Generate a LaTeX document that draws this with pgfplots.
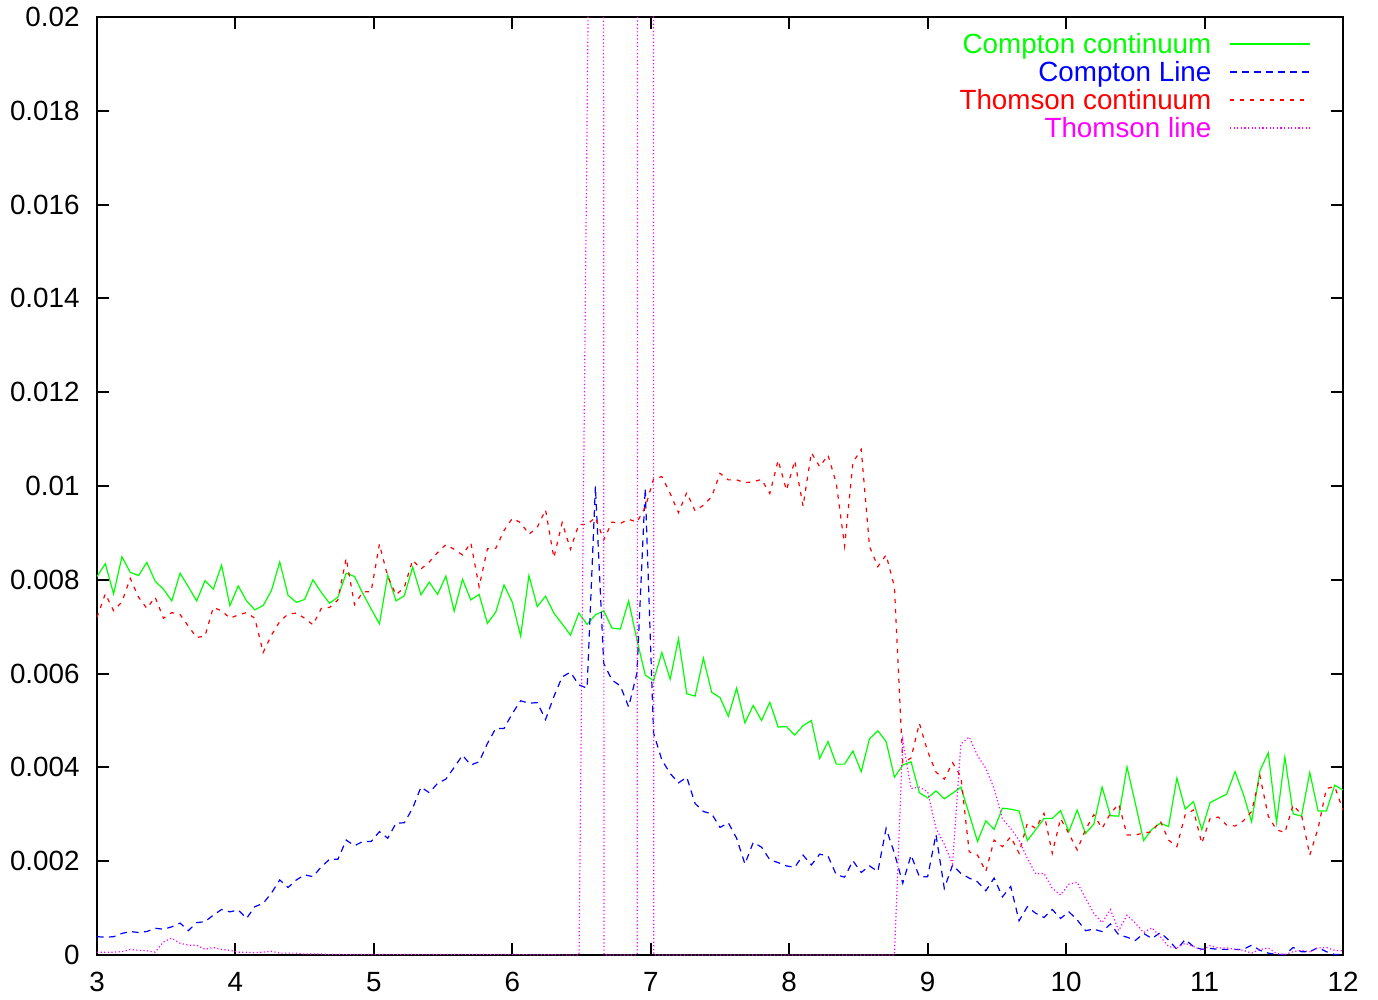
\documentclass[border=0pt]{standalone}
\usepackage{fontspec}
\setmainfont{Liberation Sans}
\usepackage{pgfplots}
\pgfplotsset{compat=1.18}
\usepackage{pgfplotstable}
\usetikzlibrary{calc}

\definecolor{gpgreen}{rgb}{0,1,0}
\definecolor{gpblue}{rgb}{0,0,1}
\definecolor{gpred}{rgb}{1,0,0}
\definecolor{gpmag}{rgb}{1,0,1}

\pgfplotstableread{
x cc cl tc
3.00 0.00807 0.00039 0.00720
3.06 0.00834 0.00038 0.00770
3.12 0.00770 0.00039 0.00734
3.18 0.00849 0.00046 0.00753
3.24 0.00816 0.00050 0.00803
3.30 0.00809 0.00048 0.00763
3.36 0.00837 0.00050 0.00739
3.42 0.00797 0.00057 0.00763
3.48 0.00780 0.00055 0.00718
3.54 0.00755 0.00060 0.00730
3.60 0.00814 0.00068 0.00726
3.66 0.00785 0.00052 0.00701
3.72 0.00755 0.00069 0.00677
3.78 0.00798 0.00071 0.00680
3.84 0.00780 0.00085 0.00741
3.90 0.00831 0.00097 0.00734
3.96 0.00745 0.00092 0.00718
4.02 0.00787 0.00096 0.00725
4.08 0.00755 0.00078 0.00730
4.14 0.00736 0.00103 0.00718
4.20 0.00745 0.00110 0.00645
4.26 0.00777 0.00132 0.00682
4.32 0.00838 0.00160 0.00711
4.38 0.00767 0.00144 0.00727
4.44 0.00752 0.00160 0.00729
4.50 0.00758 0.00171 0.00718
4.56 0.00800 0.00167 0.00704
4.62 0.00773 0.00188 0.00739
4.68 0.00750 0.00204 0.00741
4.74 0.00763 0.00204 0.00757
4.80 0.00814 0.00245 0.00846
4.86 0.00807 0.00233 0.00747
4.92 0.00771 0.00242 0.00774
4.98 0.00738 0.00242 0.00775
5.04 0.00706 0.00263 0.00876
5.10 0.00810 0.00249 0.00807
5.16 0.00755 0.00281 0.00768
5.22 0.00766 0.00282 0.00784
5.28 0.00827 0.00313 0.00842
5.34 0.00768 0.00358 0.00823
5.40 0.00795 0.00346 0.00838
5.46 0.00769 0.00366 0.00858
5.52 0.00808 0.00375 0.00875
5.58 0.00733 0.00400 0.00865
5.64 0.00801 0.00426 0.00853
5.70 0.00757 0.00405 0.00879
5.76 0.00769 0.00412 0.00785
5.82 0.00707 0.00451 0.00866
5.88 0.00731 0.00483 0.00867
5.94 0.00789 0.00483 0.00905
6.00 0.00752 0.00515 0.00931
6.06 0.00680 0.00542 0.00922
6.12 0.00809 0.00537 0.00897
6.18 0.00743 0.00538 0.00912
6.24 0.00765 0.00502 0.00949
6.30 0.00729 0.00551 0.00847
6.36 0.00706 0.00593 0.00922
6.42 0.00682 0.00603 0.00865
6.48 0.00729 0.00576 0.00918
6.54 0.00705 0.00569 0.00918
6.60 0.00725 0.00999 0.00933
6.66 0.00734 0.00622 0.00885
6.72 0.00697 0.00586 0.00923
6.78 0.00695 0.00574 0.00920
6.84 0.00755 0.00529 0.00929
6.90 0.00672 0.00601 0.00923
6.96 0.00597 0.00995 0.00954
7.02 0.00585 0.00473 0.01015
7.08 0.00645 0.00416 0.01020
7.14 0.00588 0.00387 0.00984
7.20 0.00674 0.00367 0.00943
7.26 0.00557 0.00379 0.00986
7.32 0.00552 0.00323 0.00947
7.38 0.00633 0.00306 0.00959
7.44 0.00560 0.00301 0.00977
7.50 0.00549 0.00272 0.01027
7.56 0.00509 0.00282 0.01013
7.62 0.00569 0.00249 0.01013
7.68 0.00495 0.00194 0.01007
7.74 0.00532 0.00240 0.01009
7.80 0.00500 0.00230 0.01014
7.86 0.00539 0.00203 0.00984
7.92 0.00486 0.00197 0.01055
7.98 0.00487 0.00190 0.00991
8.04 0.00469 0.00187 0.01054
8.10 0.00489 0.00213 0.00957
8.16 0.00500 0.00192 0.01071
8.22 0.00419 0.00215 0.01041
8.28 0.00455 0.00211 0.01066
8.34 0.00407 0.00171 0.01006
8.40 0.00407 0.00166 0.00872
8.46 0.00435 0.00201 0.01050
8.52 0.00391 0.00176 0.01078
8.58 0.00461 0.00190 0.00871
8.64 0.00478 0.00178 0.00828
8.70 0.00455 0.00270 0.00853
8.76 0.00379 0.00217 0.00785
8.82 0.00405 0.00153 0.00410
8.88 0.00412 0.00213 0.00420
8.94 0.00346 0.00167 0.00494
9.00 0.00335 0.00167 0.00434
9.06 0.00350 0.00257 0.00390
9.12 0.00333 0.00142 0.00375
9.18 0.00345 0.00192 0.00410
9.24 0.00358 0.00174 0.00380
9.30 0.00300 0.00164 0.00220
9.36 0.00242 0.00156 0.00213
9.42 0.00286 0.00137 0.00178
9.48 0.00268 0.00164 0.00245
9.54 0.00313 0.00124 0.00231
9.60 0.00311 0.00146 0.00252
9.66 0.00307 0.00073 0.00217
9.72 0.00244 0.00103 0.00281
9.78 0.00267 0.00089 0.00270
9.84 0.00291 0.00080 0.00302
9.90 0.00291 0.00097 0.00217
9.96 0.00308 0.00078 0.00291
10.02 0.00263 0.00092 0.00259
10.08 0.00309 0.00075 0.00224
10.14 0.00259 0.00052 0.00267
10.20 0.00279 0.00055 0.00299
10.26 0.00358 0.00050 0.00270
10.32 0.00297 0.00066 0.00302
10.38 0.00296 0.00043 0.00322
10.44 0.00401 0.00038 0.00256
10.50 0.00323 0.00031 0.00256
10.56 0.00244 0.00046 0.00260
10.62 0.00268 0.00035 0.00263
10.68 0.00281 0.00048 0.00286
10.74 0.00274 0.00032 0.00245
10.80 0.00377 0.00012 0.00231
10.86 0.00311 0.00033 0.00299
10.92 0.00327 0.00018 0.00309
10.98 0.00267 0.00012 0.00238
11.04 0.00325 0.00014 0.00291
11.10 0.00334 0.00012 0.00294
11.16 0.00343 0.00012 0.00277
11.22 0.00391 0.00012 0.00275
11.28 0.00343 0.00012 0.00286
11.34 0.00284 0.00021 0.00306
11.40 0.00393 0.00010 0.00382
11.46 0.00431 0.00004 0.00296
11.52 0.00283 0.00001 0.00267
11.58 0.00422 0.00001 0.00261
11.64 0.00301 0.00016 0.00320
11.70 0.00296 0.00007 0.00299
11.76 0.00389 0.00007 0.00213
11.82 0.00307 0.00016 0.00270
11.88 0.00307 0.00007 0.00355
11.94 0.00362 0.00001 0.00359
12.00 0.00352 0.00001 0.00309
}\maindata

\pgfplotstableread{
x tl
3.00 0.00006
3.06 0.00006
3.12 0.00006
3.18 0.00007
3.24 0.00012
3.30 0.00010
3.36 0.00009
3.42 0.00006
3.48 0.00028
3.54 0.00036
3.60 0.00025
3.66 0.00021
3.72 0.00021
3.78 0.00012
3.84 0.00016
3.90 0.00012
3.96 0.00010
4.02 0.00006
4.08 0.00006
4.14 0.00005
4.20 0.00006
4.26 0.00008
4.32 0.00004
4.38 0.00004
4.44 0.00004
4.50 0.00002
4.56 0.00002
4.62 0.00002
4.68 0.00001
5.00 0.00001
5.50 0.00001
6.00 0.00001
6.482 0.00000
6.547 0.02000
6.550 0.03000
6.658 0.03000
6.662 0.00000
6.902 0.00000
6.906 0.03000
7.018 0.03000
7.022 0.00000
8.00 0.00000
8.76 0.00000
8.82 0.00458
8.88 0.00355
8.94 0.00358
9.00 0.00348
9.06 0.00270
9.12 0.00236
9.18 0.00194
9.24 0.00450
9.30 0.00465
9.36 0.00425
9.42 0.00398
9.48 0.00355
9.54 0.00290
9.60 0.00270
9.66 0.00245
9.72 0.00206
9.78 0.00173
9.84 0.00174
9.90 0.00142
9.96 0.00128
10.02 0.00151
10.08 0.00155
10.14 0.00121
10.20 0.00089
10.26 0.00069
10.32 0.00097
10.38 0.00052
10.44 0.00085
10.50 0.00068
10.56 0.00048
10.62 0.00058
10.68 0.00039
10.74 0.00018
10.80 0.00015
10.86 0.00025
10.92 0.00018
10.98 0.00010
11.04 0.00020
11.10 0.00015
11.16 0.00015
11.22 0.00012
11.28 0.00010
11.34 0.00004
11.40 0.00012
11.46 0.00015
11.52 0.00003
11.58 0.00001
11.64 0.00007
11.70 0.00010
11.76 0.00007
11.82 0.00015
11.88 0.00016
11.94 0.00010
12.00 0.00009
}\tldata

\begin{document}
\begin{tikzpicture}
\begin{axis}[
  scale only axis,
  width=623pt, height=469pt,
  xmin=3, xmax=12, ymin=0, ymax=0.02,
  xtick={3,4,5,6,7,8,9,10,11,12},
  xticklabels={3,4,5,6,7,8,9,10,11,12},
  ytick={0,0.002,0.004,0.006,0.008,0.01,0.012,0.014,0.016,0.018,0.02},
  yticklabels={0,0.002,0.004,0.006,0.008,0.01,0.012,0.014,0.016,0.018,0.02},
  scaled y ticks=false,
  /pgf/number format/assume math mode=true,
  tick align=inside,
  major tick length=6pt,
  every tick/.style={black, line width=1pt},
  axis line style={black, line width=1pt},
  tick label style={font=\fontsize{13.9}{16}\selectfont},
  xticklabel style={anchor=north, inner sep=0pt, yshift=-8.5pt},
  yticklabel style={anchor=east, inner sep=0pt, xshift=-8.5pt},
  legend plot pos=right,
  legend cell align=right,
  legend image code/.code={\path (0pt,0pt); \draw[#1] (9pt,2pt) -- (49pt,2pt);},
  legend style={draw=none, fill=none, at={(1,1)}, anchor=north east,
    xshift=-16.2pt, yshift=-8.5pt, inner sep=0pt, outer sep=0pt,
    font=\fontsize{13.9}{16}\selectfont, row sep=0pt,
    nodes={inner sep=0pt, text height=10pt, text depth=4pt}},
]
\addplot[gpgreen, line width=0.6pt] table[x=x, y=cc] {\maindata};
\addlegendentry{\textcolor{gpgreen}{Compton continuum}}
\addplot[gpblue, line width=0.6pt, dash pattern=on 3.3pt off 2.7pt] table[x=x, y=cl] {\maindata};
\addlegendentry{\textcolor{gpblue}{Compton Line}}
\addplot[gpred, line width=0.6pt, dash pattern=on 2.1pt off 2.9pt] table[x=x, y=tc] {\maindata};
\addlegendentry{\textcolor{gpred}{Thomson continuum}}
\addplot[gpmag, line width=0.6pt, dash pattern=on 0.6pt off 1.2pt] table[x=x, y=tl] {\tldata};
\addlegendentry{\textcolor{gpmag}{Thomson line}}
\coordinate (SW) at (rel axis cs:0,0);
\coordinate (NE) at (rel axis cs:1,1);
\end{axis}
\pgfresetboundingbox
\path[use as bounding box] ($(SW)+(-48.5pt,-22pt)$) rectangle ($(NE)+(17.5pt,8.5pt)$);
\end{tikzpicture}
\end{document}
